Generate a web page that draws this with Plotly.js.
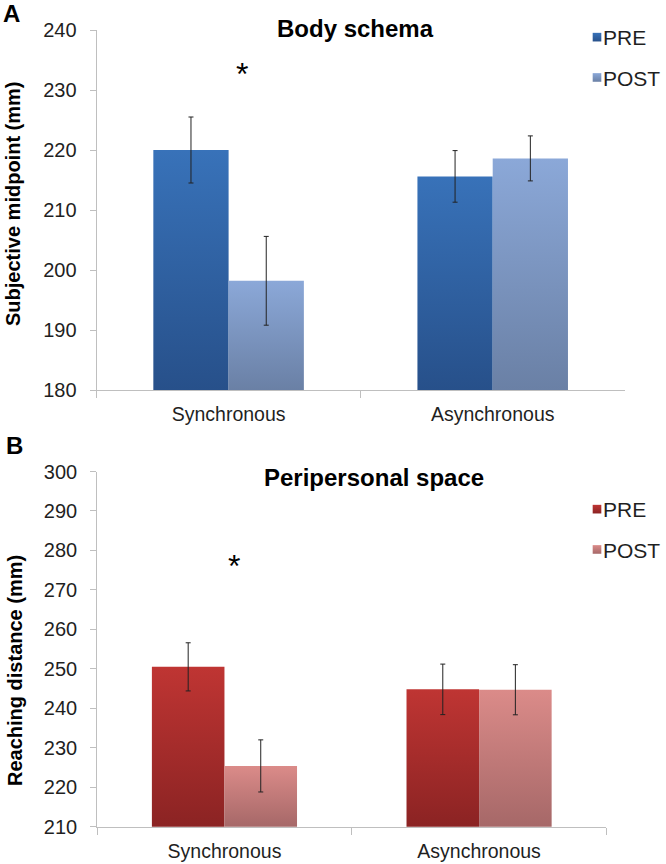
<!DOCTYPE html>
<html>
<head>
<meta charset="utf-8">
<script src="https://cdn.plot.ly/plotly-3.0.1.min.js"></script>
<style>
  html, body { margin: 0; padding: 0; background: #ffffff; }
  #chart { width: 666px; height: 864px; }
</style>
</head>
<body>
<div id="chart"></div>
<script>
// ---- data ----
const categories = ['Synchronous', 'Asynchronous'];
const seriesNames = ['PRE', 'POST'];

const bodyPre = [220.0, 215.6];
const bodyPreErr = [5.5, 4.3];
const bodyPost = [198.2, 218.6];
const bodyPostErr = [7.4, 3.75];

const periPre = [250.5, 244.8];
const periPreErr = [6.1, 6.4];
const periPost = [225.4, 244.7];
const periPostErr = [6.6, 6.35];

const bodyRange = [180, 240];
const periRange = [210, 300];
const bodyStar = 233.3;
const periStar = 276.9;

const panelTitles = ['Body schema', 'Peripersonal space'];
const yTitles = ['Subjective midpoint (mm)', 'Reaching distance (mm)'];
const panelLetters = ['A', 'B'];

// ---- styling ----
const FONT = 'Liberation Sans, Arial, sans-serif';
const TXT = '#1f1f1f';
const AXC = '#bfbfbf';
const W = 666, H = 864;
const gradients = {
  bodyPre:  ['#3872b9', '#27508a'],
  bodyPost: ['#8ba8d8', '#6a80a5'],
  periPre:  ['#bf3533', '#8b2323'],
  periPost: ['#db8b89', '#a66868']
};
const traceAxis = { bodyPre: 'yaxis', bodyPost: 'yaxis', periPre: 'yaxis2', periPost: 'yaxis2' };

function errSpec(arr) {
  return { type: 'data', array: arr, visible: true, color: '#222222', thickness: 1, width: 2.5 };
}
function bar(name, y, err, xa, ya, uid, legend) {
  return {
    type: 'bar', name: name, x: categories, y: y, xaxis: xa, yaxis: ya, uid: uid,
    legend: legend, legendgroup: uid,
    marker: { color: gradients[uid][0] },
    error_y: errSpec(err),
    hoverinfo: 'skip'
  };
}

const traces = [
  bar(seriesNames[0], bodyPre, bodyPreErr, 'x', 'y', 'bodyPre', 'legend'),
  bar(seriesNames[1], bodyPost, bodyPostErr, 'x', 'y', 'bodyPost', 'legend'),
  bar(seriesNames[0], periPre, periPreErr, 'x2', 'y2', 'periPre', 'legend2'),
  bar(seriesNames[1], periPost, periPostErr, 'x2', 'y2', 'periPost', 'legend2')
];

function px(x) { return x / W; }
function py(y) { return 1 - y / H; }

const xCommon = {
  type: 'category', showline: true, linecolor: AXC, linewidth: 1,
  ticks: 'outside', tickson: 'boundaries', ticklen: 7, tickcolor: AXC, tickwidth: 1,
  showgrid: false, zeroline: false, fixedrange: true, automargin: false,
  tickfont: { family: FONT, size: 19.5, color: TXT }, ticklabelstandoff: 7
};
const yCommon = {
  showline: true, linecolor: AXC, linewidth: 1,
  ticks: 'outside', ticklen: 6, tickcolor: AXC, tickwidth: 1, dtick: 10,
  showgrid: false, zeroline: false, fixedrange: true, automargin: false,
  tickfont: { family: FONT, size: 20, color: TXT }, ticklabelstandoff: 9
};

const legendCommon = {
  font: { family: FONT, size: 21, color: TXT },
  bgcolor: 'rgba(0,0,0,0)', borderwidth: 0,
  xanchor: 'left', yanchor: 'top', traceorder: 'grouped', tracegroupgap: 10,
  itemclick: false, itemdoubleclick: false
};

const annotations = [
  { text: '<b>' + panelTitles[0] + '</b>', xref: 'paper', yref: 'paper', x: px(356.5), y: py(28),
    xanchor: 'center', yanchor: 'middle', showarrow: false, font: { family: FONT, size: 24, color: '#000' } },
  { text: '<b>' + panelTitles[1] + '</b>', xref: 'paper', yref: 'paper', x: px(374.5), y: py(477),
    xanchor: 'center', yanchor: 'middle', showarrow: false, font: { family: FONT, size: 24, color: '#000' } },
  { text: '<b>' + yTitles[0] + '</b>', xref: 'paper', yref: 'paper', x: px(13), y: py(204), textangle: -90,
    xanchor: 'center', yanchor: 'middle', showarrow: false, font: { family: FONT, size: 20, color: '#000' } },
  { text: '<b>' + yTitles[1] + '</b>', xref: 'paper', yref: 'paper', x: px(15), y: py(670), textangle: -90,
    xanchor: 'center', yanchor: 'middle', showarrow: false, font: { family: FONT, size: 20, color: '#000' } },
  { text: '<b>' + panelLetters[0] + '</b>', xref: 'paper', yref: 'paper', x: px(11.5), y: py(13.5),
    xanchor: 'center', yanchor: 'middle', showarrow: false, font: { family: FONT, size: 24, color: '#000' } },
  { text: '<b>' + panelLetters[1] + '</b>', xref: 'paper', yref: 'paper', x: px(14.5), y: py(445),
    xanchor: 'center', yanchor: 'middle', showarrow: false, font: { family: FONT, size: 24, color: '#000' } },
  { text: '*', xref: 'x', yref: 'y', x: categories[0], y: bodyStar, xshift: 13, yshift: -3.5,
    xanchor: 'center', yanchor: 'middle', showarrow: false, font: { family: FONT, size: 32, color: '#000' } },
  { text: '*', xref: 'x2', yref: 'y2', x: categories[0], y: periStar, xshift: 10, yshift: -3.5,
    xanchor: 'center', yanchor: 'middle', showarrow: false, font: { family: FONT, size: 32, color: '#000' } }
];

const layout = {
  width: W, height: H,
  margin: { l: 0, r: 0, t: 0, b: 0, pad: 0 },
  paper_bgcolor: '#ffffff', plot_bgcolor: '#ffffff',
  barmode: 'group', bargap: 0.43, bargroupgap: 0,
  showlegend: true,
  font: { family: FONT, color: TXT },
  xaxis: Object.assign({}, xCommon, { domain: [px(96.7), px(625.7)], anchor: 'y' }),
  yaxis: Object.assign({}, yCommon, { domain: [py(390), py(30)], range: bodyRange, anchor: 'x' }),
  xaxis2: Object.assign({}, xCommon, { domain: [px(97.3), px(607.3)], anchor: 'y2' }),
  yaxis2: Object.assign({}, yCommon, { domain: [py(826.7), py(471.5)], range: periRange, anchor: 'x2' }),
  legend: Object.assign({}, legendCommon, { x: px(564), y: py(17) }),
  legend2: Object.assign({}, legendCommon, { x: px(564), y: py(489) }),
  annotations: annotations
};

const gd = document.getElementById('chart');

function hexToRgb(h) {
  const n = parseInt(h.slice(1), 16);
  return 'rgb(' + ((n >> 16) & 255) + ', ' + ((n >> 8) & 255) + ', ' + (n & 255) + ')';
}
function norm(c) { return (c || '').replace(/\s+/g, '').toLowerCase(); }

function applyGradients() {
  const ns = 'http://www.w3.org/2000/svg';
  const svg = gd.querySelector('svg.main-svg');
  let defs = svg.querySelector('defs');
  if (!defs) { defs = document.createElementNS(ns, 'defs'); svg.insertBefore(defs, svg.firstChild); }
  const fl = gd._fullLayout;
  const colorMap = {};
  Object.keys(gradients).forEach(function (id) { colorMap[norm(hexToRgb(gradients[id][0]))] = id; });
  let n = 0;
  function makeGrad(id, userSpace, y1, y2) {
    const lg = document.createElementNS(ns, 'linearGradient');
    const gid = 'grad_' + id + '_' + (n++);
    lg.setAttribute('id', gid);
    if (userSpace) {
      lg.setAttribute('gradientUnits', 'userSpaceOnUse');
      lg.setAttribute('x1', '0'); lg.setAttribute('x2', '0');
      lg.setAttribute('y1', String(y1)); lg.setAttribute('y2', String(y2));
    } else {
      lg.setAttribute('x1', '0'); lg.setAttribute('y1', '0');
      lg.setAttribute('x2', '0'); lg.setAttribute('y2', '1');
    }
    [[0, gradients[id][0]], [1, gradients[id][1]]].forEach(function (s) {
      const st = document.createElementNS(ns, 'stop');
      st.setAttribute('offset', String(s[0]));
      st.setAttribute('stop-color', s[1]);
      lg.appendChild(st);
    });
    defs.appendChild(lg);
    return gid;
  }
  gd.querySelectorAll('.barlayer .point path').forEach(function (p) {
    const id = colorMap[norm(p.style.fill)];
    if (!id) return;
    const ax = fl[traceAxis[id]];
    const bb = p.getBBox();
    const gid = makeGrad(id, true, bb.y, ax._length);
    p.style.setProperty('fill', 'url(#' + gid + ')', 'important');
  });
  gd.querySelectorAll('.legendpoints path').forEach(function (p) {
    const id = colorMap[norm(p.style.fill)];
    if (!id) return;
    const gid = makeGrad(id, false);
    p.style.setProperty('fill', 'url(#' + gid + ')', 'important');
    p.setAttribute('transform', 'translate(34,0) scale(0.72)');
  });
}

Plotly.newPlot(gd, traces, layout, { staticPlot: true, displayModeBar: false }).then(applyGradients);
</script>
</body>
</html>
